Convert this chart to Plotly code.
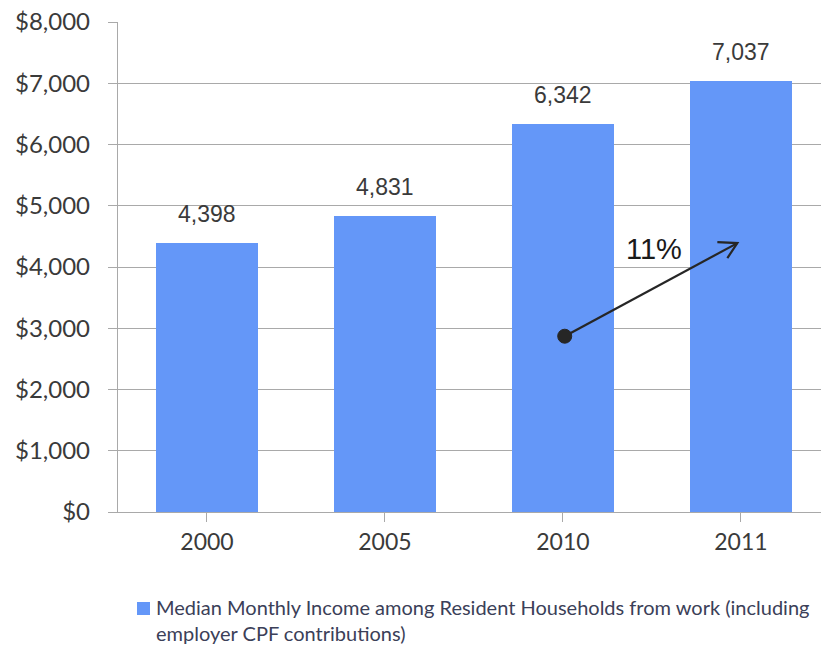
import plotly.graph_objects as go

# Median monthly household income from work (incl. employer CPF), SGD
years = ["2000", "2005", "2010", "2011"]
income = [4398, 4831, 6342, 7037]
series_lines = ["Median Monthly Income among Resident Households from work (including",
                "employer CPF contributions)"]

# growth annotation 2010 -> 2011
growth_label = "11%"
arrow_start = (2.01, 2870)
arrow_end = (2.98, 4390)
growth_label_pos = (2.51, 4294)

BAR = "#6497F8"
GRID = "#a9a9a9"
TXT = "#3a3a3a"
LEG_TXT = "#3b4058"
TICK_FONT = "Lato"
LABEL_FONT = "Liberation Sans"

# plot area in pixels (left, right, top, bottom)
L, R, T, B = 118, 821, 22, 512
W, H = R - L, B - T


def px_x(p):
    return (p - L) / W


def px_y(p):
    return (B - p) / H


fig = go.Figure()
fig.add_trace(go.Bar(
    x=list(range(len(years))), y=income, name=" ".join(series_lines),
    marker=dict(color=BAR, line=dict(width=0)),
    width=0.573, showlegend=False,
))

annotations = []
for i, v in enumerate(income):
    annotations.append(dict(
        x=i, y=v, xref="x", yref="y", text=f"{v:,}", showarrow=False,
        yanchor="bottom", yshift=14,
        font=dict(family=LABEL_FONT, size=23, color=TXT),
    ))
annotations.append(dict(
    x=growth_label_pos[0], y=growth_label_pos[1], xref="x", yref="y",
    text=growth_label, showarrow=False, xanchor="center", yanchor="middle",
    font=dict(family=LABEL_FONT, size=29, color="#1a1a1a"),
))

# legend: swatch + wrapped series name
annotations.append(dict(
    x=px_x(154), y=px_y(620), xref="paper", yref="paper",
    text="<br>".join(series_lines), showarrow=False,
    xanchor="left", yanchor="middle", align="left",
    font=dict(family=TICK_FONT, size=20, color=LEG_TXT),
))

shapes = []
shapes.append(dict(type="rect", xref="paper", yref="paper",
                   x0=px_x(137), x1=px_x(150), y0=px_y(615), y1=px_y(602),
                   fillcolor=BAR, line=dict(width=0)))
# arrow shaft
shapes.append(dict(type="line", xref="x", yref="y",
                   x0=arrow_start[0], y0=arrow_start[1],
                   x1=arrow_end[0], y1=arrow_end[1],
                   line=dict(color="#262626", width=2.2)))
# open arrow head
shapes.append(dict(type="path", xref="x", yref="y",
                   xsizemode="pixel", ysizemode="pixel",
                   xanchor=arrow_end[0], yanchor=arrow_end[1],
                   path="M -20 1 L 0 0 L -10 -15",
                   line=dict(color="#262626", width=2.2)))
# start dot
shapes.append(dict(type="circle", xref="x", yref="y",
                   xsizemode="pixel", ysizemode="pixel",
                   xanchor=arrow_start[0], yanchor=arrow_start[1],
                   x0=-7, x1=7, y0=-7, y1=7,
                   fillcolor="#262626", line=dict(color="#262626", width=1)))
# minor ticks under each category
for i in range(len(years)):
    shapes.append(dict(type="line", xref="x", yref="y",
                       ysizemode="pixel", yanchor=0,
                       x0=i, x1=i, y0=0, y1=-4,
                       line=dict(color=GRID, width=1.3)))

fig.update_layout(
    width=821, height=646,
    margin=dict(l=L, r=821 - R, t=T, b=646 - B),
    paper_bgcolor="white", plot_bgcolor="white",
    annotations=annotations, shapes=shapes,
    bargap=0,
    showlegend=False,
    font=dict(family=TICK_FONT, color=TXT),
)
fig.update_xaxes(
    tickmode="array", tickvals=list(range(len(years))), ticktext=years,
    range=[-0.5, 3.45], tickson="boundaries",
    ticks="outside", ticklen=9, tickcolor=GRID, tickwidth=1.3,
    showline=True, linecolor=GRID, linewidth=1.3,
    showgrid=False, zeroline=False,
    tickfont=dict(family=TICK_FONT, size=23, color=TXT),
    ticklabelstandoff=0,
)
fig.update_yaxes(
    range=[0, 8000], dtick=1000, tickprefix="$", tickformat=",d",
    ticks="outside", ticklen=9, tickcolor=GRID, tickwidth=1.3,
    showline=True, linecolor=GRID, linewidth=1.3,
    showgrid=True, gridcolor=GRID, gridwidth=1.3,
    zeroline=False,
    tickfont=dict(family=TICK_FONT, size=24, color=TXT),
    ticklabelstandoff=13,
)

fig.write_html("out.html")
